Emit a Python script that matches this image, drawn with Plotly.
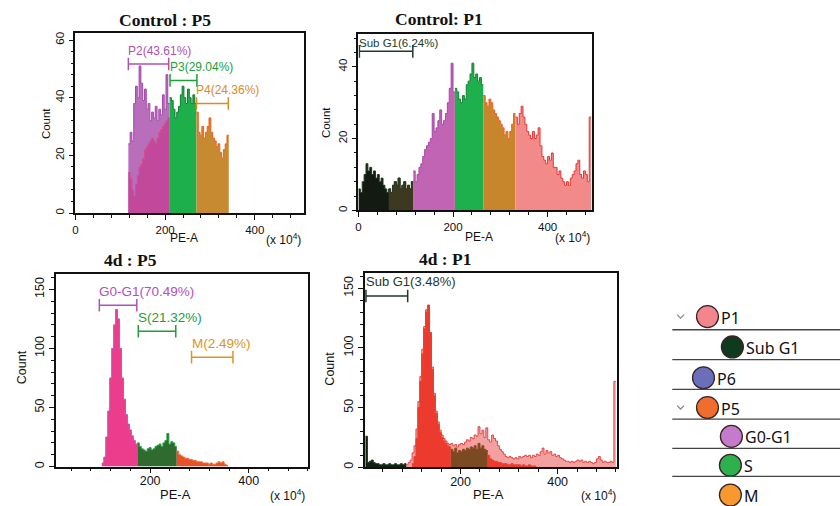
import plotly.graph_objects as go

W, H = 840, 506
BIN = 4

# ---------------- DATA ----------------
# Control : P5  (PE-A x10^4 bin starts, counts per 4-unit bin)
ctrl_p5_g0g1_start = 118
ctrl_p5_g0g1 = [24, 28, 25, 38, 44, 40, 51, 45, 39, 43, 36, 38, 32, 35, 33, 37, 32, 36, 34, 41, 36, 48, 38]
ctrl_p5_g0g1_under = [14, 12, 8, 6, 10, 13, 16, 17, 19, 22, 23, 24, 25, 26, 25, 24, 26, 28, 29, 30, 31, 32, 33]
ctrl_p5_s_start = 210
ctrl_p5_s = [40, 39, 36, 33, 35, 37, 41, 44, 40, 38, 43, 40, 38, 41, 38]
ctrl_p5_m_start = 270
ctrl_p5_m = [35, 28, 27, 30, 26, 28, 30, 33, 28, 26, 25, 23, 24, 21, 19, 22, 24, 27]
ctrl_p5_gate_labels = ["P2(43.61%)", "P3(29.04%)", "P4(24.36%)"]
ctrl_p5_gate_start = [118, 211, 270]
ctrl_p5_gate_end = [208, 271, 341]
ctrl_p5_gate_level = [51.7, 46, 38]

# Control : P1
ctrl_p1_subg1_start = 0
ctrl_p1_subg1 = [6, 5, 8, 10, 13, 11, 12, 10, 11, 9, 10, 8, 9, 7, 6, 5, 6, 5, 7, 8, 7, 9, 6, 7, 8, 6, 7, 6, 8]
ctrl_p1_g0g1_start = 116
ctrl_p1_g0g1 = [11, 8, 10, 12, 13, 15, 17, 18, 19, 20, 27, 22, 23, 25, 28, 24, 25, 27, 30, 34, 41, 33]
ctrl_p1_s_start = 204
ctrl_p1_s = [34, 33, 31, 30, 32, 31, 35, 36, 38, 41, 37, 38, 36, 37, 35]
ctrl_p1_m_start = 264
ctrl_p1_m = [32, 30, 29, 31, 30, 28, 27, 26, 25, 24, 23, 21, 22, 20, 22, 24, 27]
ctrl_p1_rest_start = 332
ctrl_p1_rest = [26, 24, 27, 29, 26, 24, 22, 21, 20, 22, 20, 21, 23, 18, 15, 14, 13, 15, 14, 16,
                12, 12, 10, 11, 9, 8, 7, 8, 7, 9, 10, 11, 13, 14, 10, 9, 11, 10, 8, 26]
ctrl_p1_gate_labels = ["Sub G1(6.24%)"]
ctrl_p1_gate_start = [2]
ctrl_p1_gate_end = [115]
ctrl_p1_gate_level = [44.3]

# 4d : P5
d4_p5_g0g1_start = 102
d4_p5_g0g1 = [3, 8, 25, 47, 75, 100, 120, 133, 125, 100, 75, 57, 44, 36, 31, 26, 22, 19]
d4_p5_s_start = 174
d4_p5_s = [20, 17, 15, 14, 13, 15, 16, 14, 15, 17, 18, 19, 17, 20, 22, 28, 19, 21, 20, 17]
d4_p5_m_start = 254
d4_p5_m = [13, 10, 9, 8, 7, 7, 6, 6, 5, 5, 4, 4, 4, 3, 3, 3, 2, 3, 2, 2, 3, 4, 3, 4, 2, 1]
d4_p5_gate_labels = ["G0-G1(70.49%)", "S(21.32%)", "M(2.49%)"]
d4_p5_gate_start = [97, 176, 284]
d4_p5_gate_end = [173, 252, 368]
d4_p5_gate_level = [136.6, 114.5, 92.6]

# 4d : P1
d4_p1_subg1_start = 4
d4_p1_subg1 = [26, 4, 5, 6, 4, 3, 3, 2, 2, 3, 2, 2, 3, 2, 2, 3, 2, 2, 3, 2, 3]
d4_p1_all_start = 88
d4_p1_all = [2, 4, 6, 12, 18, 32, 55, 76, 99, 118, 132, 131, 112, 84, 62, 47, 38, 31, 27, 24,
             22, 20, 19, 20, 18, 19, 17, 19, 20, 19, 21, 23, 22, 25, 24, 27, 26, 34, 28, 31,
             25, 33, 23, 21, 27, 24, 22, 18, 15, 13, 11, 9, 8, 9, 8, 7, 8, 7, 9, 8,
             9, 10, 9, 10, 8, 10, 9, 11, 10, 13, 16, 11, 14, 12, 13, 10, 11, 9, 10, 8,
             7, 6, 5, 5, 4, 5, 4, 5, 6, 5, 6, 4, 5, 4, 5, 4, 3, 4, 7, 9,
             6, 4, 5, 4, 4, 5, 4, 72]
d4_p1_g0g1_start = 100
d4_p1_g0g1 = [3, 9, 24, 50, 72, 95, 116, 130, 136, 113, 82, 60, 45, 36, 29, 25, 22, 20, 18, 17]
d4_p1_s_start = 180
d4_p1_s = [15, 13, 16, 12, 14, 13, 15, 14, 16, 15, 17, 16, 18, 15, 20, 16, 18, 15, 14]
d4_p1_m_start = 256
d4_p1_m = [10, 7, 6, 5, 5, 4, 4, 3, 3, 3, 2, 2, 3, 2, 2, 2, 2, 1, 2, 1, 1, 2, 1, 1, 1]
d4_p1_gate_labels = ["Sub G1(3.48%)"]
d4_p1_gate_start = [5]
d4_p1_gate_end = [91]
d4_p1_gate_level = [143.6]

panel_titles = ["Control : P5", "Control: P1", "4d : P5", "4d : P1"]
x_tick_vals = [0, 200, 400]
x_tick_text = ["0", "200", "400"]

legend_labels = ["P1", "Sub G1", "P6", "P5", "G0-G1", "S", "M"]
legend_colors = ["#F3868C", "#0E3B1E", "#6B6EB8", "#EF6E2E", "#C57ACB", "#2DB14E", "#F7992F"]
legend_expand = [True, False, False, True, False, False, False]

# ---------------- FIGURE ----------------
fig = go.Figure()


def px(x):
    return x / W


def py(y):
    return 1 - y / H


def step(start, counts):
    xs = [start + BIN * i for i in range(len(counts))] + [start + BIN * len(counts)]
    ys = list(counts) + [counts[-1]]
    return xs, ys


def hist(xa, ya, start, counts, fill, line, lw=1.0):
    xs, ys = step(start, counts)
    fig.add_trace(go.Scatter(x=xs, y=ys, xaxis=xa, yaxis=ya, mode="lines",
                             line=dict(shape="hv", color=line, width=lw),
                             fill="tozeroy", fillcolor=fill,
                             hoverinfo="skip", showlegend=False))


annotations = []
shapes = []


def gates(xa, ya, labels, starts, ends, levels, colors, yshift=13, size=12):
    for lab, s, e, lv, c in zip(labels, starts, ends, levels, colors):
        fig.add_trace(go.Scatter(x=[s, e], y=[lv, lv], xaxis=xa, yaxis=ya,
                                 mode="lines+markers",
                                 line=dict(color=c, width=1.5),
                                 marker=dict(symbol="line-ns", size=9,
                                             line=dict(color=c, width=1.5)),
                                 hoverinfo="skip", showlegend=False))
        annotations.append(dict(x=s, y=lv, xref=xa, yref=ya, text=lab,
                                showarrow=False, xanchor="left", yanchor="middle",
                                xshift=-2, yshift=yshift,
                                font=dict(family="Liberation Sans", size=size, color=c)))


# Panel 1: Control : P5
hist("x", "y", ctrl_p5_g0g1_start, ctrl_p5_g0g1, "#B96EBB", "#A24BAA")
hist("x", "y", ctrl_p5_g0g1_start, ctrl_p5_g0g1_under, "#C2489C", "#D0508E")
hist("x", "y", ctrl_p5_s_start, ctrl_p5_s, "#1DAF4A", "#137A30")
hist("x", "y", ctrl_p5_m_start, ctrl_p5_m, "#C88A30", "#F0601E")
gates("x", "y", ctrl_p5_gate_labels, ctrl_p5_gate_start, ctrl_p5_gate_end,
      ctrl_p5_gate_level, ["#B050B0", "#1E9E3A", "#D98C1E"], size=12)

# Panel 2: Control : P1
hist("x2", "y2", ctrl_p1_subg1_start, ctrl_p1_subg1, "#121A12", "#1E3A22")
hist("x2", "y2", ctrl_p1_subg1_start + BIN * 16, ctrl_p1_subg1[16:], "#3D3820", "#2A3A22")
hist("x2", "y2", ctrl_p1_g0g1_start, ctrl_p1_g0g1, "#C264B4", "#A548A8")
hist("x2", "y2", ctrl_p1_s_start, ctrl_p1_s, "#1EB04C", "#148036")
hist("x2", "y2", ctrl_p1_m_start, ctrl_p1_m, "#C8862C", "#F06020")
hist("x2", "y2", ctrl_p1_rest_start, ctrl_p1_rest, "#F28A8A", "#E83434")
gates("x2", "y2", ctrl_p1_gate_labels, ctrl_p1_gate_start, ctrl_p1_gate_end,
      ctrl_p1_gate_level, ["#1E3A2A"], yshift=8.5, size=11.5)

# Panel 3: 4d : P5
hist("x3", "y3", d4_p5_g0g1_start, d4_p5_g0g1, "#EC3C8C", "#B05CC0")
hist("x3", "y3", d4_p5_s_start, d4_p5_s, "#2F6B2F", "#22A03C")
hist("x3", "y3", d4_p5_m_start, d4_p5_m, "#E8502A", "#F06A30")
gates("x3", "y3", d4_p5_gate_labels, d4_p5_gate_start, d4_p5_gate_end,
      d4_p5_gate_level, ["#B050C0", "#1E9E3A", "#D9961E"], yshift=14, size=13.5)

# Panel 4: 4d : P1
hist("x4", "y4", d4_p1_all_start, d4_p1_all, "#F4A0A0", "#E04848")
hist("x4", "y4", d4_p1_g0g1_start, d4_p1_g0g1, "#EC3B2E", "#E8402A")
hist("x4", "y4", d4_p1_s_start, d4_p1_s, "#7B4A22", "#8A4A20")
hist("x4", "y4", d4_p1_m_start, d4_p1_m, "#EC3B2E", "#E8402A")
hist("x4", "y4", d4_p1_subg1_start, d4_p1_subg1, "#102010", "#1E3A22")
gates("x4", "y4", d4_p1_gate_labels, d4_p1_gate_start, d4_p1_gate_end,
      d4_p1_gate_level, ["#1E3A2A"], yshift=14, size=13)

# ---------------- AXES ----------------
panels = [
    dict(k="", xdom=(72.7, 301.7), ydom=(32.3, 213.3), xr=[0, 509], yr=[0, 62.4], ydt=20, ymin=4,
         fs=11.5, so=0, title=(163, 19), count=(43, 123), pea=(182, 238), mult=(282, 239)),
    dict(k="2", xdom=(356.7, 590.7), ydom=(33.3, 210.7), xr=[0, 493], yr=[0, 49.1], ydt=20, ymin=4,
         fs=11.5, so=0, title=(438, 18), count=(324, 122), pea=(478, 237), mult=(572, 237)),
    dict(k="3", xdom=(53.3, 306), ydom=(274.3, 468.3), xr=[9.3, 520], yr=[0, 163.3], ydt=50, ymin=10,
         fs=12.5, so=-3, title=(128, 261), count=(18.5, 368), pea=(173, 496), mult=(286, 497)),
    dict(k="4", xdom=(363.3, 616), ydom=(274, 469), xr=[3, 522], yr=[0, 162.5], ydt=50, ymin=10,
         fs=12.5, so=-3, title=(444, 260), count=(328, 370), pea=(487, 496), mult=(598, 497)),
]


def paper_text(x, y, text, font, angle=0, xanchor="center"):
    annotations.append(dict(x=px(x), y=py(y), xref="paper", yref="paper", text=text,
                            showarrow=False, xanchor=xanchor, yanchor="middle",
                            textangle=angle, font=font))


layout_axes = {}
for i, p in enumerate(panels):
    k = p["k"]
    fs = p["fs"]
    tickfont = dict(family="Liberation Sans", size=fs, color="#111")
    layout_axes["xaxis" + k] = dict(
        domain=[px(p["xdom"][0]), px(p["xdom"][1])], range=p["xr"],
        anchor="y" + k, showgrid=False, zeroline=False,
        showline=True, linecolor="#111", linewidth=1.5, mirror=True,
        ticks="outside", ticklen=5, tickwidth=1.3, tickcolor="#111",
        tickvals=x_tick_vals, ticktext=x_tick_text, tickfont=tickfont,
        ticklabelstandoff=p["so"],
        minor=dict(ticks="outside", ticklen=3, tickwidth=1, tickcolor="#111",
                   dtick=40, tick0=0, showgrid=False),
    )
    layout_axes["yaxis" + k] = dict(
        domain=[py(p["ydom"][1]), py(p["ydom"][0])], range=p["yr"],
        anchor="x" + k, showgrid=False, zeroline=False,
        showline=True, linecolor="#111", linewidth=1.5, mirror=True,
        ticks="outside", ticklen=5, tickwidth=1.3, tickcolor="#111",
        dtick=p["ydt"], tick0=0, tickangle=-90, tickfont=tickfont,
        minor=dict(ticks="outside", ticklen=3, tickwidth=1, tickcolor="#111",
                   dtick=p["ymin"], tick0=0, showgrid=False),
    )
    paper_text(*p["title"], "<b>" + panel_titles[i] + "</b>",
               dict(family="Liberation Serif", size=17.5, color="#111"))
    paper_text(*p["count"], "Count", dict(family="Liberation Sans", size=fs, color="#111"), angle=-90)
    paper_text(*p["pea"], "PE-A", dict(family="Liberation Sans", size=fs + 0.5, color="#111"))
    paper_text(*p["mult"], "(x 10<sup>4</sup>)", dict(family="Liberation Sans", size=12, color="#111"))

# ---------------- LEGEND PANEL ----------------
legend_cx = [707, 732, 703, 707, 731, 730, 730]
legend_cy = [317.5, 348, 379, 409, 438, 467, 497]
sep_y = [330.7, 360.7, 390.7, 420.7, 450, 478.3]
R = 11
for lab, col, ex, cx, cy in zip(legend_labels, legend_colors, legend_expand, legend_cx, legend_cy):
    shapes.append(dict(type="circle", xref="paper", yref="paper",
                       x0=px(cx - R), x1=px(cx + R), y0=py(cy + R), y1=py(cy - R),
                       fillcolor=col, line=dict(color="#3A2424", width=1.3)))
    paper_text(cx + R + 0.5, cy + 1, lab, dict(family="Noto Sans", size=16, color="#111"),
               xanchor="left")
    if ex:
        path = "M {} {} L {} {} L {} {}".format(px(676.5), py(cy - 2), px(680), py(cy + 1.5),
                                                px(683.5), py(cy - 2))
        shapes.append(dict(type="path", xref="paper", yref="paper", path=path,
                           line=dict(color="#8A8A8A", width=1.3)))
for sy in sep_y:
    shapes.append(dict(type="line", xref="paper", yref="paper",
                       x0=px(671.7), x1=1.0, y0=py(sy), y1=py(sy),
                       line=dict(color="#444", width=1.3)))

fig.update_layout(
    width=W, height=H, autosize=False,
    margin=dict(l=0, r=0, t=0, b=0),
    paper_bgcolor="white", plot_bgcolor="white",
    showlegend=False,
    annotations=annotations, shapes=shapes,
    **layout_axes,
)

fig.write_html("out.html",
               config={"displayModeBar": False},
               post_script="document.body.style.margin='0px';document.body.style.overflow='hidden';")
